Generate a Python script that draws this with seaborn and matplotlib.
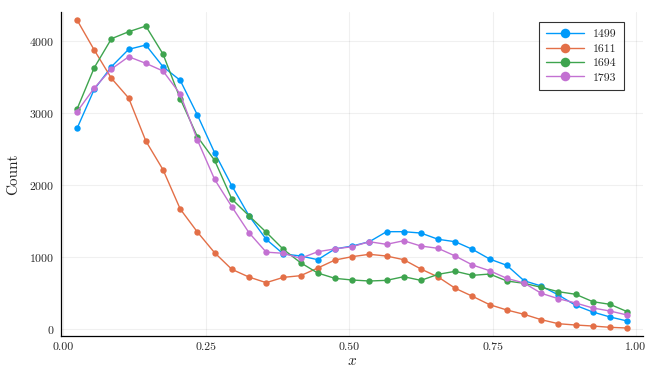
import numpy as np
import pandas as pd
import matplotlib
matplotlib.use('Agg')
import matplotlib.pyplot as plt
import seaborn as sns
from matplotlib.ticker import FormatStrFormatter

# bin centres (bins of width 0.03)
bin_centers = np.round(np.arange(0.025, 1.0, 0.03), 3)

series_names = ['1499', '1611', '1694', '1793']

counts_1499 = [2789, 3333, 3648, 3890, 3950, 3648, 3458, 2975, 2450, 1990, 1572,
               1244, 1040, 1012, 960, 1110, 1150, 1210, 1350, 1350, 1331, 1244,
               1210, 1104, 969, 881, 667, 593, 468, 324, 231, 162, 106]
counts_1611 = [4298, 3880, 3486, 3212, 2613, 2213, 1666, 1345, 1057, 826, 718,
               640, 714, 737, 844, 955, 1002, 1035, 1011, 960, 830, 719,
               561, 450, 333, 259, 199, 124, 68, 50, 36, 18, 8]
counts_1694 = [3058, 3634, 4038, 4135, 4214, 3824, 3202, 2673, 2344, 1805, 1572,
               1343, 1104, 918, 774, 700, 677, 663, 672, 723, 672, 756,
               798, 742, 760, 663, 631, 575, 514, 478, 375, 338, 236]
counts_1793 = [3021, 3351, 3616, 3787, 3695, 3588, 3267, 2627, 2079, 1698, 1336,
               1065, 1049, 979, 1071, 1110, 1141, 1210, 1174, 1224, 1150, 1118,
               1011, 886, 806, 700, 635, 492, 416, 357, 287, 245, 189]

colors = ['#009AFA', '#E36F47', '#3EA44E', '#C371D2']

frames = []
for name, vals in zip(series_names, [counts_1499, counts_1611, counts_1694, counts_1793]):
    frames.append(pd.DataFrame({'x': bin_centers, 'count': vals, 'series': name}))
df = pd.concat(frames, ignore_index=True)

sns.set_style("white")
plt.rcParams['font.family'] = ['cmr10', 'DejaVu Serif']
plt.rcParams['mathtext.fontset'] = 'cm'
plt.rcParams['axes.formatter.use_mathtext'] = True

fig = plt.figure(figsize=(6.54, 3.74), dpi=100)
ax = fig.add_axes([0.0933, 0.1016, 0.8894, 0.8671])

sns.lineplot(data=df, x='x', y='count', hue='series', hue_order=series_names,
             palette=colors, marker='o', markersize=4.6, markeredgewidth=0,
             linewidth=1.0, ax=ax)

ax.set_xlim(-0.003, 1.012)
ax.set_ylim(-103, 4414)
ax.set_xticks([0.0, 0.25, 0.5, 0.75, 1.0])
ax.set_yticks([0, 1000, 2000, 3000, 4000])
ax.xaxis.set_major_formatter(FormatStrFormatter('%.2f'))
ax.tick_params(direction='in', length=4, width=0.8, labelsize=8.5, pad=5, color='black')
ax.grid(True, color='black', alpha=0.06, linewidth=0.8)

for side in ['top', 'right']:
    ax.spines[side].set_visible(False)
for side in ['left', 'bottom']:
    ax.spines[side].set_color('black')
    ax.spines[side].set_linewidth(0.9)

ax.set_xlabel('$x$', fontsize=11, labelpad=1)
ax.set_ylabel('Count', fontsize=11, labelpad=6)

handles, labels = ax.get_legend_handles_labels()
leg = ax.legend(handles, labels, loc='upper right', bbox_to_anchor=(0.968, 0.968),
                borderaxespad=0, fontsize=8.5, frameon=True, fancybox=False,
                handlelength=3.2, markerscale=1.5, borderpad=0.6, labelspacing=0.35)
leg.get_frame().set_edgecolor('black')
leg.get_frame().set_linewidth(0.8)

fig.savefig('out.png', dpi=100, facecolor='white')
plt.close(fig)
